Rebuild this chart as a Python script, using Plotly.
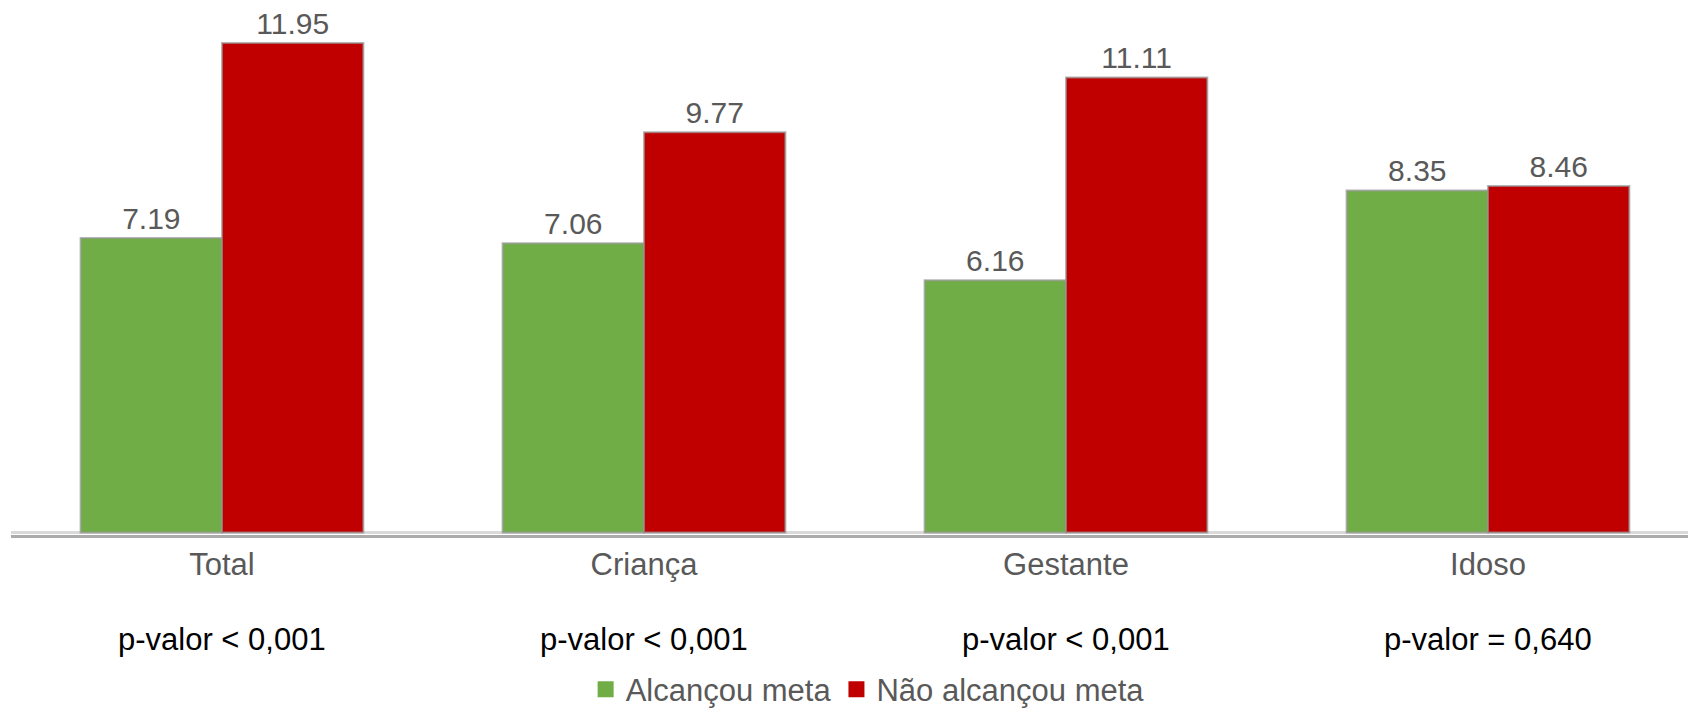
import plotly.graph_objects as go

categorias = ["Total", "Criança", "Gestante", "Idoso"]
alcancou = [7.19, 7.06, 6.16, 8.35]
nao_alcancou = [11.95, 9.77, 11.11, 8.46]
p_valores = ["p-valor < 0,001", "p-valor < 0,001", "p-valor < 0,001", "p-valor = 0,640"]

VERDE = "#70ad47"
VERMELHO = "#c00000"
CINZA = "#595959"
FONTE = "Arial, Liberation Sans, sans-serif"

fig = go.Figure()

# Bars (legend drawn with dummy markers so the squares can be bigger)
fig.add_trace(go.Bar(x=categorias, y=alcancou, name="Alcançou meta",
                     marker=dict(color=VERDE, line=dict(color="rgba(150,150,150,0.7)", width=2)),
                     text=[f"{v:.2f}" for v in alcancou], textposition="outside",
                     textfont=dict(size=30, color=CINZA, family=FONTE),
                     cliponaxis=False, showlegend=False))
fig.add_trace(go.Bar(x=categorias, y=nao_alcancou, name="Não alcançou meta",
                     marker=dict(color=VERMELHO, line=dict(color="rgba(150,150,150,0.7)", width=2)),
                     text=[f"{v:.2f}" for v in nao_alcancou], textposition="outside",
                     textfont=dict(size=30, color=CINZA, family=FONTE),
                     cliponaxis=False, showlegend=False))

for nome, cor in [("Alcançou meta", VERDE), ("Não alcançou meta", VERMELHO)]:
    fig.add_trace(go.Scatter(x=[None], y=[None], mode="markers", name=nome,
                             marker=dict(symbol="square", size=20, color=cor)))

# p-values under each category
for cat, p in zip(categorias, p_valores):
    fig.add_annotation(x=cat, xref="x", y=-0.196, yref="paper", yanchor="middle",
                       text=p, showarrow=False,
                       font=dict(size=31, color="black", family=FONTE))

fig.update_layout(
    width=1688, height=711,
    margin=dict(l=11, r=0, t=0, b=176),
    plot_bgcolor="white", paper_bgcolor="white",
    barmode="group", bargap=0.33, bargroupgap=0,
    font=dict(family=FONTE, size=31, color=CINZA),
    legend=dict(orientation="h", xref="container", yref="container",
                x=0.514, xanchor="center", y=0.03, yanchor="middle",
                font=dict(size=31, color=CINZA), itemwidth=30,
                traceorder="normal"),
)
fig.update_xaxes(range=[-0.5, 3.474], showline=True, linecolor="#ababab", linewidth=3,
                 layer="below traces", showgrid=False, ticks="",
                 tickfont=dict(size=31, color=CINZA, family=FONTE))
fig.update_yaxes(range=[-0.061, 13.0], showticklabels=False, showgrid=False,
                 zeroline=True, zerolinecolor="#d9d9d9", zerolinewidth=3,
                 layer="below traces")

# remove the default page margin so the figure fills the window
fig.write_html("out.html", config={"displayModeBar": False},
               post_script="document.body.style.margin='0';")
